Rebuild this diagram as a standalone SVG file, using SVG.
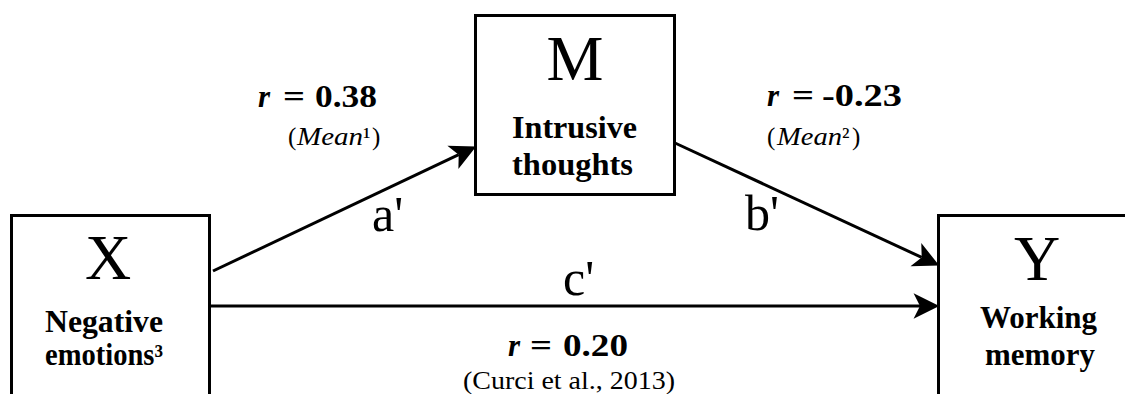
<svg xmlns="http://www.w3.org/2000/svg" width="1125" height="394" viewBox="0 0 1125 394">
<style>
.box{fill:#fff;stroke:#000;stroke-width:3}
.big{font-family:"Liberation Serif","Times New Roman",serif;font-size:64px;fill:#000;text-anchor:middle}
.lbl{font-family:"Liberation Serif","Times New Roman",serif;font-size:31px;font-weight:bold;fill:#000}
.it{font-style:italic}
.path{font-family:"Liberation Serif","Times New Roman",serif;font-size:50px;fill:#000}
.src{font-family:"Liberation Serif","Times New Roman",serif;font-size:25px;fill:#000}
.conn{stroke:#000;stroke-width:3;fill:none;marker-end:url(#arr)}
</style>
<defs>
<marker id="arr" markerUnits="userSpaceOnUse" markerWidth="30" markerHeight="30" viewBox="-2 -14 28 28" refX="6" refY="0" orient="auto">
<path d="M0,-12 L24,0 L0,12 L6,0 Z" fill="#000"/>
</marker>
</defs>
<rect width="1125" height="394" fill="#fff"/>
<g id="connectors">
<line class="conn" x1="213" y1="271" x2="458.7" y2="154.7"/>
<line class="conn" x1="675" y1="143" x2="921.7" y2="257.4"/>
<line class="conn" x1="211" y1="306" x2="920" y2="306"/>
<text class="path" x="372" y="231">a'</text>
<text class="path" x="745" y="230">b'</text>
<text class="path" x="563" y="295">c'</text>
</g>
<g id="label-a">
<text class="lbl it" x="258" y="107">r</text>
<text class="lbl" x="283" y="107" textLength="22" lengthAdjust="spacingAndGlyphs">=</text>
<text class="lbl" x="315" y="107" textLength="62" lengthAdjust="spacingAndGlyphs">0.38</text>
<text class="src" x="288" y="145">(</text>
<text class="src it" x="297" y="145" textLength="66" lengthAdjust="spacingAndGlyphs">Mean</text>
<text class="src" x="363" y="145">¹</text>
<text class="src" x="372" y="145">)</text>
</g>
<g id="label-b">
<text class="lbl it" x="767" y="106">r</text>
<text class="lbl" x="792" y="106" textLength="22" lengthAdjust="spacingAndGlyphs">=</text>
<text class="lbl" x="822" y="106" textLength="80" lengthAdjust="spacingAndGlyphs">-0.23</text>
<text class="src" x="767" y="145">(</text>
<text class="src it" x="777" y="145" textLength="65" lengthAdjust="spacingAndGlyphs">Mean</text>
<text class="src" x="842" y="145">²</text>
<text class="src" x="852" y="145">)</text>
</g>
<g id="label-c">
<text class="lbl it" x="508" y="356">r</text>
<text class="lbl" x="530" y="356" textLength="22" lengthAdjust="spacingAndGlyphs">=</text>
<text class="lbl" x="563" y="356" textLength="65" lengthAdjust="spacingAndGlyphs">0.20</text>
<text class="src" x="463" y="389" textLength="212" lengthAdjust="spacingAndGlyphs">(Curci et al., 2013)</text>
</g>
<g id="node-X">
<rect class="box" x="11.5" y="215.5" width="198" height="200"/>
<text class="big" x="108" y="279">X</text>
<text class="lbl" x="45" y="332" textLength="118" lengthAdjust="spacingAndGlyphs">Negative</text>
<text class="lbl" x="45" y="365" textLength="118" lengthAdjust="spacingAndGlyphs">emotions³</text>
</g>
<g id="node-M">
<rect class="box" x="475.5" y="15.5" width="199" height="179"/>
<text class="big" x="575" y="80">M</text>
<text class="lbl" x="512" y="138" textLength="125" lengthAdjust="spacingAndGlyphs">Intrusive</text>
<text class="lbl" x="512" y="175" textLength="121" lengthAdjust="spacingAndGlyphs">thoughts</text>
</g>
<g id="node-Y">
<rect class="box" x="938.5" y="215.5" width="200" height="200"/>
<text class="big" x="1037" y="280">Y</text>
<text class="lbl" x="980" y="328" textLength="117" lengthAdjust="spacingAndGlyphs">Working</text>
<text class="lbl" x="985" y="365" textLength="110" lengthAdjust="spacingAndGlyphs">memory</text>
</g>
</svg>
